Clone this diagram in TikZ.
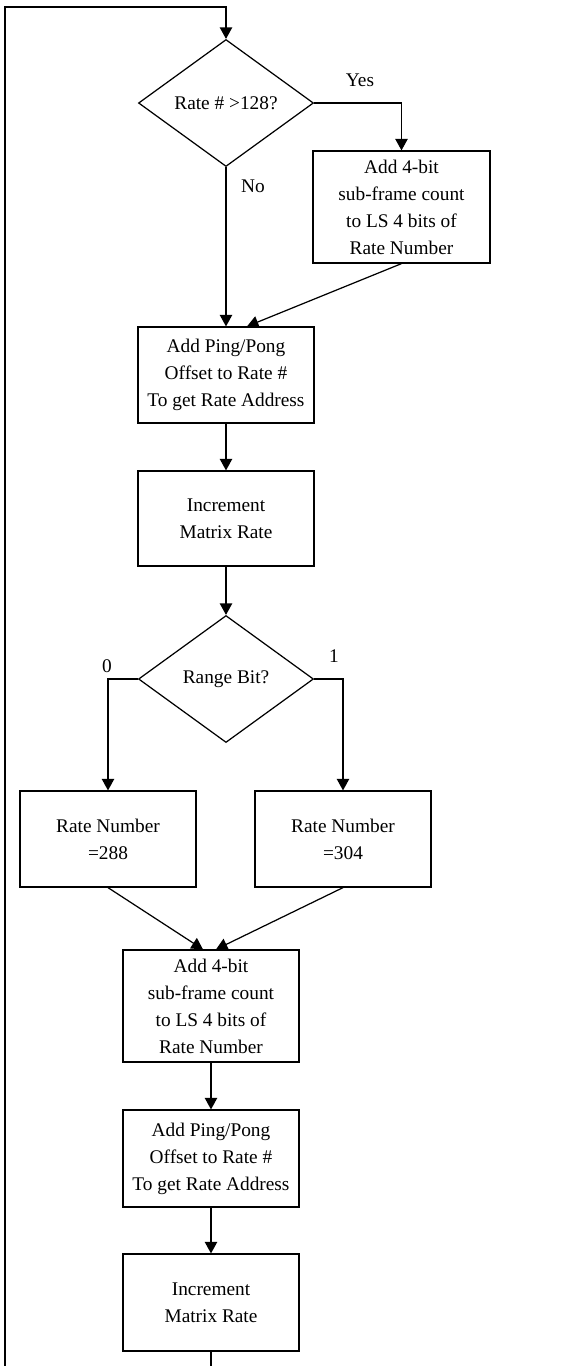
\documentclass[tikz,border=0pt]{standalone}
\usepackage{fontspec}
\setmainfont{Liberation Serif}
\usepackage{tikz}
\usetikzlibrary{shapes.geometric,arrows.meta}

\begin{document}
\begin{tikzpicture}[line width=0.7pt,
  procbox/.style={draw,rectangle,inner sep=0pt,minimum width=3.52cm,align=center,font=\fontsize{11}{15.4}\selectfont},
  decision/.style={draw,diamond,inner sep=0pt,minimum width=3.5cm,minimum height=2.54cm,aspect=1.38,font=\fontsize{11}{15.4}\selectfont},
  arr/.style={-{Triangle[length=6.5pt,width=7pt]}},
  lbl/.style={font=\fontsize{11}{13}\selectfont}]
\useasboundingbox (0,0) rectangle (11.4,-27.32);
\node[decision] (d1) at (4.52,-2.06) {Rate \# >128?};
\node[procbox,minimum height=2.24cm,minimum width=3.54cm] (b1) at (8.03,-4.14) {Add 4-bit\\sub-frame count\\to LS 4 bits of\\Rate Number};
\node[procbox,minimum height=1.92cm] (b2) at (4.52,-7.5) {Add Ping/Pong\\Offset to Rate \#\\To get Rate Address};
\node[procbox,minimum height=1.9cm] (b3) at (4.52,-10.37) {Increment\\Matrix Rate};
\node[decision] (d2) at (4.52,-13.58) {Range Bit?};
\node[procbox,minimum height=1.92cm] (b4) at (2.16,-16.78) {Rate Number\\=288};
\node[procbox,minimum height=1.92cm] (b5) at (6.86,-16.78) {Rate Number\\=304};
\node[procbox,minimum height=2.24cm] (b6) at (4.22,-20.12) {Add 4-bit\\sub-frame count\\to LS 4 bits of\\Rate Number};
\node[procbox,minimum height=1.94cm] (b7) at (4.22,-23.17) {Add Ping/Pong\\Offset to Rate \#\\To get Rate Address};
\node[procbox,minimum height=1.94cm] (b8) at (4.22,-26.05) {Increment\\Matrix Rate};
\coordinate (bl) at (0.1,-27.32);
\coordinate (tl) at (0.1,-0.14);
\coordinate (bend) at (4.22,-27.32);
% loop back to the top
\draw[arr] (bl) -- (tl) -| (d1.north);
\draw[arr] (d1.east) -| (b1.north);
\draw[arr] (d1.south) -- (b2.north);
\draw[arr] (b1.south) -- ([xshift=0.42cm]b2.north);
\draw[arr] (b2.south) -- (b3.north);
\draw[arr] (b3.south) -- (d2.north);
\draw[arr] (d2.west) -| (b4.north);
\draw[arr] (d2.east) -| (b5.north);
\draw[arr] (b4.south) -- ([xshift=-0.16cm]b6.north);
\draw[arr] (b5.south) -- ([xshift=0.1cm]b6.north);
\draw[arr] (b6.south) -- (b7.north);
\draw[arr] (b7.south) -- (b8.north);
\draw (b8.south) -- (bend);
\node[lbl] (yes) at (7.2,-1.6) {Yes};
\node[lbl] (no) at (5.06,-3.72) {No};
\node[lbl] (zero) at (2.14,-13.32) {0};
\node[lbl] (one) at (6.68,-13.12) {1};
\end{tikzpicture}
\end{document}
